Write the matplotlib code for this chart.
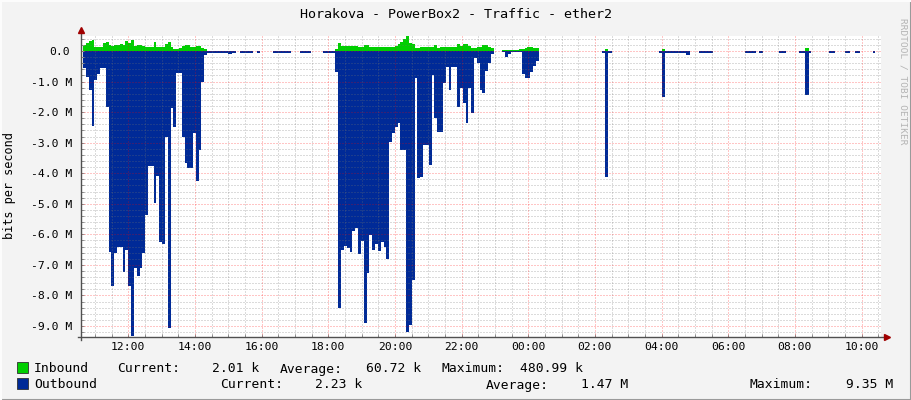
import numpy as np
import matplotlib
matplotlib.use("Agg")
import matplotlib.pyplot as plt
import matplotlib.transforms as mtransforms
from matplotlib.patches import Rectangle
from matplotlib.lines import Line2D

# ---------------- data (values in M bits/s, times HH:MM) ----------------
axis_start = "10:35"
axis_hours = 24

block1_span = ("10:39", "14:22")
out1 = [-0.55, -0.84, -1.28, -2.44, -0.95, -0.75, -0.55, -0.55, -1.82, -6.58,
        -7.69, -6.60, -6.42, -6.42, -7.22, -6.50, -7.70, -9.33, -7.10, -7.38,
        -7.10, -6.60, -5.37, -3.78, -3.78, -4.98, -4.10, -6.24, -6.33, -2.80,
        -9.07, -1.87, -2.48, -0.72, -0.72, -2.80, -3.67, -3.83, -3.83, -2.69,
        -4.27, -3.24, -1.00, -0.13]
in1 = [0.20, 0.25, 0.33, 0.36, 0.14, 0.12, 0.12, 0.25, 0.30, 0.20,
       0.17, 0.20, 0.20, 0.22, 0.18, 0.33, 0.27, 0.36, 0.17, 0.20,
       0.20, 0.17, 0.14, 0.14, 0.14, 0.28, 0.14, 0.12, 0.12, 0.23,
       0.28, 0.14, 0.07, 0.07, 0.10, 0.17, 0.20, 0.20, 0.14, 0.14,
       0.17, 0.17, 0.10, 0.05]

block2_span = ("18:13", "22:58")
out2 = [-0.70, -8.40, -6.50, -6.38, -6.45, -6.57, -5.90, -5.80, -6.64, -6.22,
        -8.91, -7.27, -6.02, -6.51, -6.33, -6.55, -6.24, -6.40, -6.81, -2.97,
        -2.69, -2.50, -2.36, -3.24, -3.24, -9.18, -8.97, -7.50, -0.89, -4.16,
        -4.12, -3.08, -3.08, -3.73, -0.79, -2.20, -2.64, -2.64, -1.06, -0.51,
        -1.28, -0.54, -0.54, -1.82, -1.22, -1.71, -2.37, -1.22, -2.04, -0.24,
        -0.40, -1.28, -1.38, -0.67, -0.40, -0.10]
in2 = [0.05, 0.25, 0.16, 0.16, 0.16, 0.16, 0.16, 0.16, 0.14, 0.14,
       0.20, 0.20, 0.12, 0.12, 0.12, 0.12, 0.12, 0.12, 0.12, 0.12,
       0.12, 0.15, 0.23, 0.30, 0.40, 0.49, 0.25, 0.23, 0.09, 0.09,
       0.12, 0.12, 0.12, 0.12, 0.12, 0.20, 0.09, 0.12, 0.12, 0.12,
       0.12, 0.14, 0.14, 0.22, 0.16, 0.22, 0.22, 0.16, 0.09, 0.09,
       0.12, 0.12, 0.20, 0.20, 0.12, 0.09]

block3_span = ("23:13", "00:19")
out3 = [-0.03, -0.19, -0.10, -0.03, -0.03, -0.03, -0.05, -0.75, -0.87, -0.87,
        -0.70, -0.50, -0.32]
in3 = [0.02, 0.02, 0.02, 0.02, 0.02, 0.02, 0.07, 0.07, 0.10, 0.12,
       0.12, 0.09, 0.09]

event_start = ["14:59", "02:18", "04:01", "04:44", "08:19"]
event_end = ["15:06", "02:24", "04:06", "04:51", "08:26"]
event_out = [-0.10, -4.12, -1.49, -0.12, -1.44]
event_in = [0.00, 0.05, 0.05, 0.00, 0.09]

quiet_start = ["14:22", "15:06", "15:21", "15:52", "16:21", "17:09", "17:51",
               "02:12", "02:24", "03:55", "04:06", "05:07", "06:30", "06:55",
               "07:31", "08:07", "08:26", "09:01", "09:30", "09:48", "10:20"]
quiet_end = ["14:59", "15:14", "15:45", "15:57", "16:53", "17:29", "18:13",
             "02:18", "02:30", "04:01", "04:44", "05:32", "06:50", "07:02",
             "07:44", "08:19", "08:29", "09:13", "09:39", "09:57", "10:25"]
quiet_out = -0.07

y_ticks = [0, -1, -2, -3, -4, -5, -6, -7, -8, -9]
y_labels = ["0.0", "-1.0 M", "-2.0 M", "-3.0 M", "-4.0 M", "-5.0 M",
            "-6.0 M", "-7.0 M", "-8.0 M", "-9.0 M"]
x_tick_labels = ["12:00", "14:00", "16:00", "18:00", "20:00", "22:00",
                 "00:00", "02:00", "04:00", "06:00", "08:00", "10:00"]

legend_rows = [
    ("Inbound", "#00CF00", [("Current:", "2.01 k"), ("Average:", "60.72 k"), ("Maximum:", "480.99 k")]),
    ("Outbound", "#002A97", [("Current:", "2.23 k"), ("Average:", "1.47 M"), ("Maximum:", "9.35 M")]),
]

title = "Horakova - PowerBox2 - Traffic - ether2"
y_title = "bits per second"
watermark = "RRDTOOL / TOBI OETIKER"


# ---------------- helpers ----------------
def hm(s):
    h, m = map(int, s.split(":"))
    v = h + m / 60.0
    if v < 10.5:
        v += 24
    return v


IN_C = "#00CF00"
OUT_C = "#002A97"
MONO = "DejaVu Sans Mono"
MINOR_C = (0.45, 0.45, 0.45, 0.5)
MAJOR_C = (1.0, 0.0, 0.0, 0.45)

W, H = 911, 400
fig = plt.figure(figsize=(W / 100, H / 100), dpi=100)
fig.patch.set_facecolor("#F3F3F3")

L, R, T, B = 81, 881, 36.3, 336.7
ax = fig.add_axes([L / W, 1 - B / H, (R - L) / W, (B - T) / H])
ax.set_facecolor("white")

xmin = hm(axis_start)
ax.set_xlim(xmin, xmin + axis_hours)
ax.set_ylim(-9.35, 0.48)

# areas
for span, vo, vi in [(block1_span, out1, in1), (block2_span, out2, in2), (block3_span, out3, in3)]:
    edges = np.linspace(hm(span[0]), hm(span[1]), len(vo) + 1)
    ax.stairs(vi, edges, baseline=0, fill=True, color=IN_C, lw=0, zorder=2)
    ax.stairs(vo, edges, baseline=0, fill=True, color=OUT_C, lw=0, zorder=2)

for s, e, vo, vi in zip(event_start, event_end, event_out, event_in):
    edges = [hm(s), hm(e)]
    if vi > 0:
        ax.stairs([vi], edges, baseline=0, fill=True, color=IN_C, lw=0, zorder=2)
    ax.stairs([vo], edges, baseline=0, fill=True, color=OUT_C, lw=0, zorder=2)

for s, e in zip(quiet_start, quiet_end):
    ax.stairs([quiet_out], [hm(s), hm(e)], baseline=0, fill=True, color=OUT_C, lw=0, zorder=2)

# ticks / grid
maj_x = np.arange(12, xmin + axis_hours, 2)
min_x = np.arange(np.ceil(xmin * 2) / 2, xmin + axis_hours, 0.5)
min_y = np.arange(-9.2, 0.5, 0.2)
ax.set_xticks(maj_x)
ax.set_xticks(min_x, minor=True)
ax.set_xticklabels(x_tick_labels)
ax.set_yticks(y_ticks)
ax.set_yticks(min_y, minor=True)
ax.set_yticklabels(y_labels)
ax.set_axisbelow(False)

for v in min_x:
    if not np.isclose(v % 2, 0):
        ax.axvline(v, color=MINOR_C, lw=0.72, ls=(0, (1, 2)), zorder=3)
for v in min_y:
    if not np.isclose(v, np.round(v)):
        ax.axhline(v, color=MINOR_C, lw=0.72, ls=(0, (1, 2)), zorder=3)
for v in maj_x:
    ax.axvline(v, color=MAJOR_C, lw=0.72, ls=(0, (1, 2)), zorder=3)
for v in y_ticks:
    ax.axhline(v, color=MAJOR_C, lw=0.72, ls=(0, (1, 2)), zorder=3)

for sp in ax.spines.values():
    sp.set_visible(False)

ax.tick_params(which="both", direction="in", length=2, width=0.7, color="#909090",
               labelsize=8.2, labelcolor="black")
ax.tick_params(axis="x", which="both", pad=4)
ax.tick_params(axis="y", which="both", pad=6)
ax.tick_params(top=False, right=False)
for lab in ax.get_xticklabels() + ax.get_yticklabels():
    lab.set_family(MONO)
zero_lab = ax.get_yticklabels()[0]
zero_lab.set_transform(zero_lab.get_transform() +
                       mtransforms.ScaledTranslation(-3 / 100, 0, fig.dpi_scale_trans))

# axes lines with arrows
ax.add_line(Line2D([-0.004, 1.006], [0, 0], transform=ax.transAxes, color="#505050",
                   lw=1.0, clip_on=False, zorder=5))
ax.add_line(Line2D([0, 0], [-0.012, 1.02], transform=ax.transAxes, color="#505050",
                   lw=1.0, clip_on=False, zorder=5))
ax.plot([1.007], [0], marker=">", ms=4, color="#A00000", transform=ax.transAxes,
        clip_on=False, zorder=6)
ax.plot([0], [1.022], marker="^", ms=4, color="#A00000", transform=ax.transAxes,
        clip_on=False, zorder=6)

# texts
fig.text(455.5 / W, 1 - 14 / H, title, ha="center", va="center", family=MONO, fontsize=9.6)
fig.text(10 / W, 1 - 186 / H, y_title, ha="center", va="center", rotation=90,
         family=MONO, fontsize=8.6)
fig.text(903 / W, 1 - 18 / H, watermark, ha="center", va="top",
         rotation=270, family=MONO, fontsize=6.8, color="#B4B4B4")

# legend
row_y = [372.5, 388.5]
label_x = [[117, 259, 280, 421, 441, 583], [220, 362, 486, 628, 749, 893]]
for (name, col, stats), yb, xs in zip(legend_rows, row_y, label_x):
    fig.patches.append(Rectangle((17 / W, 1 - (yb + 0.5) / H), 11 / W, 11 / H,
                                 transform=fig.transFigure, facecolor=col,
                                 edgecolor="#303030", lw=0.6))
    fig.text(34 / W, 1 - yb / H, name, ha="left", va="baseline", family=MONO, fontsize=9.4)
    for i, (lab, val) in enumerate(stats):
        fig.text(xs[2 * i] / W, 1 - yb / H, lab, ha="left", va="baseline",
                 family=MONO, fontsize=9.4)
        fig.text(xs[2 * i + 1] / W, 1 - yb / H, val, ha="right", va="baseline",
                 family=MONO, fontsize=9.4)

# frame
fig.add_artist(Line2D([0, 1], [0.5 / H, 0.5 / H], transform=fig.transFigure, color="#9A9A9A", lw=1.5))
fig.add_artist(Line2D([1 - 0.5 / W, 1 - 0.5 / W], [0, 1], transform=fig.transFigure, color="#9A9A9A", lw=1.5))
fig.add_artist(Line2D([0, 1], [1 - 0.5 / H, 1 - 0.5 / H], transform=fig.transFigure, color="#FCFCFC", lw=1.5))
fig.add_artist(Line2D([0.5 / W, 0.5 / W], [0, 1], transform=fig.transFigure, color="#FCFCFC", lw=1.5))

fig.savefig("out.png", dpi=100, facecolor=fig.get_facecolor())
